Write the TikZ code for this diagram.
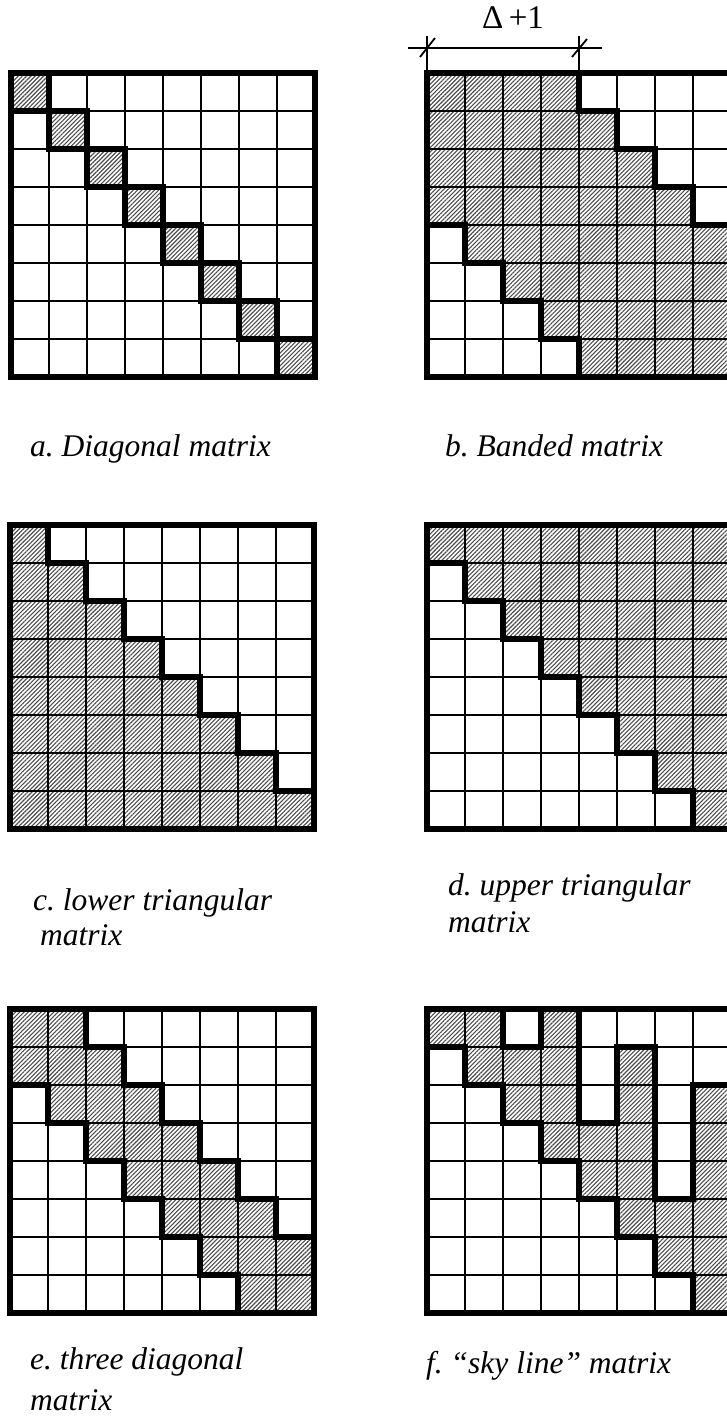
\documentclass[tikz,border=0pt]{standalone}
\usepackage{fontspec}
\setmainfont{Liberation Serif}
\usetikzlibrary{patterns.meta}

\begin{document}
\frenchspacing
\begin{tikzpicture}[x=1pt,y=1pt,yscale=-1,xscale=1,
  gridline/.style={line width=1.8},
  stairline/.style={line width=5.4},
  border/.style={line width=5.4},
  hatch/.style={pattern={Lines[angle=45,distance=3pt,line width=1.1pt]},pattern color=black!70},
  caption/.style={anchor=base west,inner sep=0pt,font=\fontsize{31.5}{36}\selectfont\itshape}]

\useasboundingbox (0,0) rectangle (726,1418);

% a. Diagonal matrix
\begin{scope}[shift={(11,73)},x=38pt,y=38pt]
\foreach \k in {0,...,7} \fill[hatch] (\k,\k) rectangle ++(1,1);
\foreach \k in {1,...,7} {\draw[gridline] (\k,0) -- (\k,8); \draw[gridline] (0,\k) -- (8,\k);}
\foreach \k in {0,...,7} \draw[stairline] (\k,\k) rectangle ++(1,1);
\draw[border] (0,0) rectangle (8,8);
\end{scope}

% b. Banded matrix
\begin{scope}[shift={(427,73)},x=38pt,y=38pt]
\fill[hatch] (0,0) -- (4,0) -- (4,1) -- (5,1) -- (5,2) -- (6,2) -- (6,3) -- (7,3) -- (7,4) -- (8,4) -- (8,8)
  -- (4,8) -- (4,7) -- (3,7) -- (3,6) -- (2,6) -- (2,5) -- (1,5) -- (1,4) -- (0,4) -- cycle;
\foreach \k in {1,...,7} {\draw[gridline] (\k,0) -- (\k,8); \draw[gridline] (0,\k) -- (8,\k);}
\draw[stairline] (4,0) -- (4,1) -- (5,1) -- (5,2) -- (6,2) -- (6,3) -- (7,3) -- (7,4) -- (8,4);
\draw[stairline] (0,4) -- (1,4) -- (1,5) -- (2,5) -- (2,6) -- (3,6) -- (3,7) -- (4,7) -- (4,8);
\draw[border] (0,0) rectangle (8,8);
\end{scope}

% width of the band
\coordinate (dimL) at (408,48);
\coordinate (dimR) at (602,48);
\draw[gridline] (dimL) -- (dimR);
\draw[gridline] (427,36) -- (427,73);
\draw[gridline] (579,36) -- (579,73);
\draw[gridline] (420,57) -- (435,38);
\draw[gridline] (572,57) -- (587,39);
\node (delta) [anchor=base,inner sep=0pt,font=\fontsize{33}{36}\selectfont] at (513,29) {Δ\,+1};

% c. lower triangular matrix
\begin{scope}[shift={(10,525)},x=38pt,y=38pt]
\fill[hatch] (0,0) -- (1,0) -- (1,1) -- (2,1) -- (2,2) -- (3,2) -- (3,3) -- (4,3) -- (4,4) -- (5,4) -- (5,5)
  -- (6,5) -- (6,6) -- (7,6) -- (7,7) -- (8,7) -- (8,8) -- (0,8) -- cycle;
\foreach \k in {1,...,7} {\draw[gridline] (\k,0) -- (\k,8); \draw[gridline] (0,\k) -- (8,\k);}
\draw[stairline] (1,0) -- (1,1) -- (2,1) -- (2,2) -- (3,2) -- (3,3) -- (4,3) -- (4,4) -- (5,4) -- (5,5)
  -- (6,5) -- (6,6) -- (7,6) -- (7,7) -- (8,7);
\draw[border] (0,0) rectangle (8,8);
\end{scope}

% d. upper triangular matrix
\begin{scope}[shift={(427,525)},x=38pt,y=38pt]
\fill[hatch] (0,0) -- (8,0) -- (8,8) -- (7,8) -- (7,7) -- (6,7) -- (6,6) -- (5,6) -- (5,5) -- (4,5) -- (4,4)
  -- (3,4) -- (3,3) -- (2,3) -- (2,2) -- (1,2) -- (1,1) -- (0,1) -- cycle;
\foreach \k in {1,...,7} {\draw[gridline] (\k,0) -- (\k,8); \draw[gridline] (0,\k) -- (8,\k);}
\draw[stairline] (0,1) -- (1,1) -- (1,2) -- (2,2) -- (2,3) -- (3,3) -- (3,4) -- (4,4) -- (4,5) -- (5,5)
  -- (5,6) -- (6,6) -- (6,7) -- (7,7) -- (7,8);
\draw[border] (0,0) rectangle (8,8);
\end{scope}

% e. three diagonal matrix
\begin{scope}[shift={(10,1009)},x=38pt,y=38pt]
\fill[hatch] (0,0) -- (2,0) -- (2,1) -- (3,1) -- (3,2) -- (4,2) -- (4,3) -- (5,3) -- (5,4) -- (6,4) -- (6,5)
  -- (7,5) -- (7,6) -- (8,6) -- (8,8) -- (6,8) -- (6,7) -- (5,7) -- (5,6) -- (4,6) -- (4,5) -- (3,5)
  -- (3,4) -- (2,4) -- (2,3) -- (1,3) -- (1,2) -- (0,2) -- cycle;
\foreach \k in {1,...,7} {\draw[gridline] (\k,0) -- (\k,8); \draw[gridline] (0,\k) -- (8,\k);}
\draw[stairline] (2,0) -- (2,1) -- (3,1) -- (3,2) -- (4,2) -- (4,3) -- (5,3) -- (5,4) -- (6,4) -- (6,5)
  -- (7,5) -- (7,6) -- (8,6);
\draw[stairline] (0,2) -- (1,2) -- (1,3) -- (2,3) -- (2,4) -- (3,4) -- (3,5) -- (4,5) -- (4,6) -- (5,6)
  -- (5,7) -- (6,7) -- (6,8);
\draw[border] (0,0) rectangle (8,8);
\end{scope}

% f. sky line matrix
\begin{scope}[shift={(427,1009)},x=38pt,y=38pt]
\foreach \c/\r in {0/0,1/0,2/1,3/0,4/3,5/1,6/5,7/2} \fill[hatch] (\c,\r) rectangle (\c+1,\c+1);
\foreach \k in {1,...,7} {\draw[gridline] (\k,0) -- (\k,8); \draw[gridline] (0,\k) -- (8,\k);}
\draw[stairline] (0,1) -- (1,1) -- (1,2) -- (2,2) -- (2,3) -- (3,3) -- (3,4) -- (4,4) -- (4,5) -- (5,5)
  -- (5,6) -- (6,6) -- (6,7) -- (7,7) -- (7,8);
\draw[stairline] (2,0) -- (2,1) -- (3,1) -- (3,0);
\draw[stairline] (4,0) -- (4,3) -- (5,3) -- (5,1) -- (6,1) -- (6,5) -- (7,5) -- (7,2) -- (8,2);
\draw[border] (0,0) rectangle (8,8);
\end{scope}

% Text Node
\node (capa) [caption] at (30,456) {a. Diagonal matrix};
\node (capb) [caption] at (445,456) {b. Banded matrix};
\node (capc) [caption] at (33,910) {c. lower triangular};
\node (capc2) [caption] at (40,945) {matrix};
\node (capd) [caption] at (448,895) {d. upper triangular};
\node (capd2) [caption] at (448,932) {matrix};
\node (cape) [caption] at (30,1369) {e. three diagonal};
\node (cape2) [caption] at (30,1410) {matrix};
\node (capf) [caption] at (426,1373) {f. “sky line” matrix};

\end{tikzpicture}
\end{document}
